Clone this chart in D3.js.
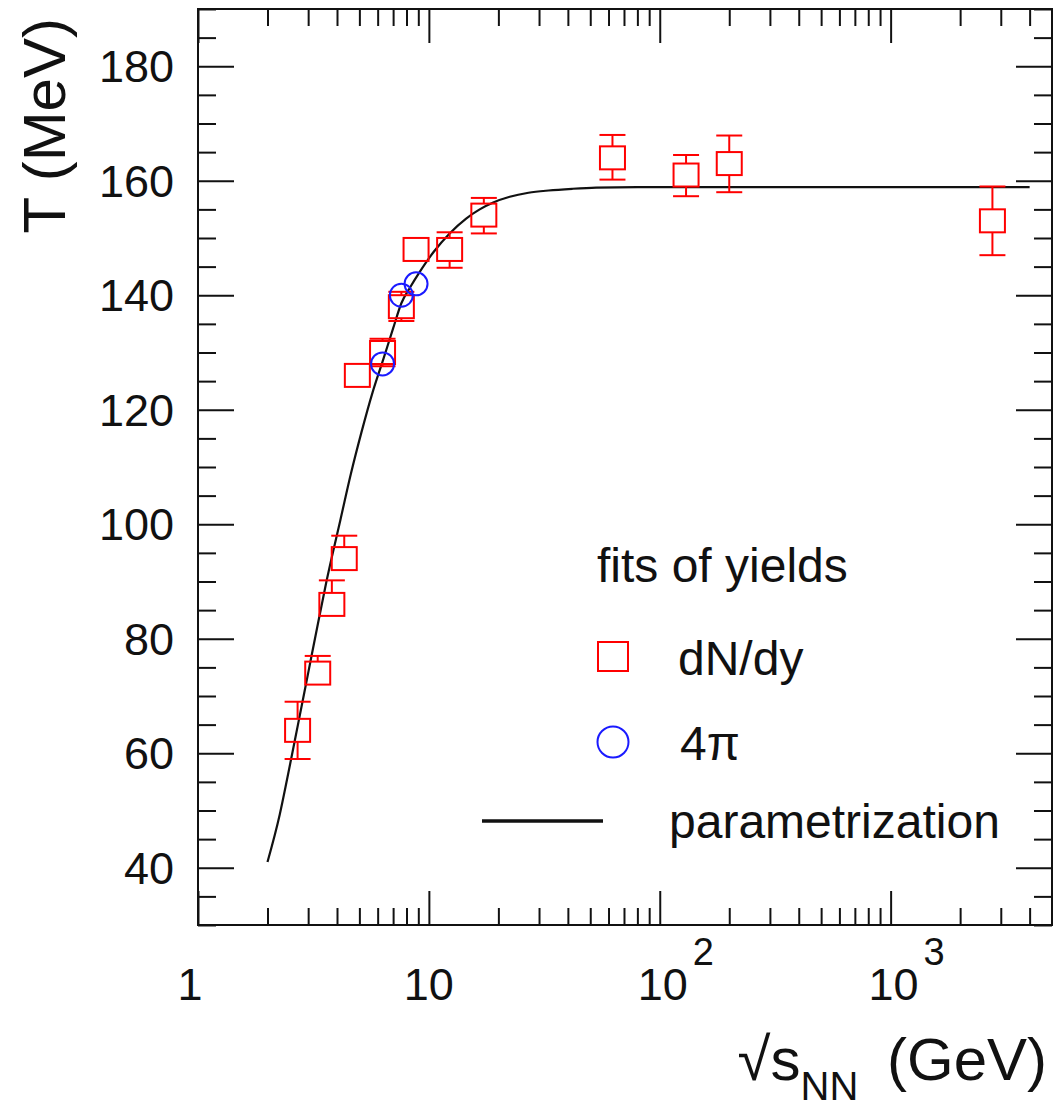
<!DOCTYPE html>
<html>
<head>
<meta charset="utf-8">
<script src="https://cdn.jsdelivr.net/npm/d3@7"></script>
<style>
  body { margin: 0; background: #fff; }
  text { font-family: "Liberation Sans", Arial, Helvetica, sans-serif; fill: #111; }
</style>
</head>
<body>
<div id="chart"></div>
<script>
// fits of yields, dN/dy (red squares)
var sqrtS = [2.7, 3.3, 3.8, 4.3, 4.9, 6.3, 7.6, 8.8, 12.3, 17.3, 62.4, 130, 200, 2760];
var tempDNdy = [64, 74, 86, 94, 126, 130, 138, 148, 148, 154, 164, 161, 163, 153];
var errUp = [5, 3, 4.2, 4, 1, 2.4, 2.6, 1, 3, 3, 4, 3.5, 4.9, 6];
var errDown = [5, 1, 1, 1, 1, 2.4, 2.5, 1, 3.2, 3.2, 3.8, 3.7, 5, 6];

// fits of yields, 4pi (blue circles)
var sqrtS4pi = [6.3, 7.6, 8.8];
var temp4pi = [128, 140, 142];

// parametrization curve
var curveS = [2, 2.26, 2.43, 2.71, 3.0, 3.31, 3.6, 4.14, 4.6, 5.1, 5.7, 6.3, 7.0, 7.6, 8.3, 9.1,
              10.5, 12.3, 14.5, 16.6, 19, 22.4, 27, 33, 42, 53, 80, 150, 400, 4000];
var curveT = [41.0, 49.3, 55.4, 65.0, 74.0, 82.7, 90.0, 100.8, 108.9, 116.0, 123.0, 128.4, 134.2, 138.6, 141.4, 144.0,
              147.6, 150.8, 153.4, 155.0, 156.2, 157.2, 157.9, 158.3, 158.6, 158.8, 158.9, 158.9, 158.9, 158.9];

// ticks
var xMajor = [1, 10, 100, 1000];
var xMinor = [2, 3, 4, 5, 6, 7, 8, 9, 20, 30, 40, 50, 60, 70, 80, 90,
              200, 300, 400, 500, 600, 700, 800, 900, 2000, 3000, 4000];
var xLabels = [["1", ""], ["10", ""], ["10", "2"], ["10", "3"]];
var yMajor = [40, 60, 80, 100, 120, 140, 160, 180];
var yMinor = d3.range(30, 191, 5).filter(function (v) { return v % 20 != 0; });

var W = 1055, H = 1109;
var mLeft = 198, mRight = 1052, mTop = 9, mBottom = 925;

var svg = d3.select("#chart")
    .append("svg")
    .attr("width", W)
    .attr("height", H);

var x = d3.scaleLog()
    .domain([1, 5000])
    .range([mLeft, mRight]);

var y = d3.scaleLinear()
    .domain([30, 190])
    .range([mBottom, mTop]);

// axes on all four sides, ticks pointing inwards
function drawAxis(axisFn, scale, values, size, transform) {
    var g = svg.append("g")
        .attr("transform", transform)
        .call(axisFn(scale).tickValues(values).tickSizeInner(-size).tickSizeOuter(0).tickFormat(""));
    g.select(".domain").remove();
    g.selectAll("line").attr("stroke", "#111").attr("stroke-width", 2);
    return g;
}
drawAxis(d3.axisBottom, x, xMajor, 34, "translate(0," + mBottom + ")");
drawAxis(d3.axisBottom, x, xMinor, 17, "translate(0," + mBottom + ")");
drawAxis(d3.axisTop, x, xMajor, 34, "translate(0," + mTop + ")");
drawAxis(d3.axisTop, x, xMinor, 17, "translate(0," + mTop + ")");
drawAxis(d3.axisLeft, y, yMajor, 36, "translate(" + mLeft + ",0)");
drawAxis(d3.axisLeft, y, yMinor, 18, "translate(" + mLeft + ",0)");
drawAxis(d3.axisRight, y, yMajor, 36, "translate(" + mRight + ",0)");
drawAxis(d3.axisRight, y, yMinor, 18, "translate(" + mRight + ",0)");

// frame
svg.append("rect")
    .attr("x", mLeft).attr("y", mTop)
    .attr("width", mRight - mLeft).attr("height", mBottom - mTop)
    .attr("fill", "none")
    .attr("stroke", "#111")
    .attr("stroke-width", 2);

// y tick labels
svg.append("g")
    .selectAll("text")
    .data(yMajor)
    .enter()
    .append("text")
    .attr("x", mLeft - 24)
    .attr("y", function (d) { return y(d); })
    .attr("dy", "0.36em")
    .attr("text-anchor", "end")
    .style("font-size", "45px")
    .text(function (d) { return d; });

// x tick labels (with exponents)
var xl = svg.append("g")
    .selectAll("text")
    .data(xMajor)
    .enter()
    .append("text")
    .attr("x", function (d) { return x(d); })
    .attr("y", 1000)
    .attr("text-anchor", "middle")
    .style("font-size", "45px");
xl.append("tspan")
    .text(function (d, i) { return xLabels[i][0]; });
xl.append("tspan")
    .attr("dy", -35)
    .attr("dx", 5)
    .style("font-size", "38px")
    .text(function (d, i) { return xLabels[i][1]; });
xl.filter(function (d, i) { return xLabels[i][1] != ""; })
    .attr("x", function (d) { return x(d) + 16; });
xl.filter(function (d) { return d == 1; })
    .attr("x", function (d) { return x(d) - 8; });

// axis titles
svg.append("text")
    .attr("transform", "translate(65,18) rotate(-90)")
    .attr("text-anchor", "end")
    .style("font-size", "60px")
    .text("T (MeV)");

var xt = svg.append("text")
    .attr("x", 1047)
    .attr("y", 1080)
    .attr("text-anchor", "end")
    .style("font-size", "60px");
xt.append("tspan").text("\u221As");
xt.append("tspan").attr("dy", 20).style("font-size", "40px").text("NN");
xt.append("tspan").attr("dy", -20).text("\u2009 (GeV)");

// parametrization line
var line = d3.line()
    .x(function (d, i) { return x(curveS[i]); })
    .y(function (d, i) { return y(curveT[i]); })
    .curve(d3.curveMonotoneX);

svg.append("path")
    .datum(curveS)
    .attr("d", line)
    .attr("fill", "none")
    .attr("stroke", "#111")
    .attr("stroke-width", 2.2);

// dN/dy points: error bars drawn outside the marker only, like ROOT
var sqW = 25, sqH = 23, capW = 26;
var red = "#ff0000", blue = "#1a1aff";
var pts = sqrtS.map(function (s, i) {
    return { s: s, t: tempDNdy[i], up: errUp[i], dn: errDown[i] };
});

var eb = svg.append("g")
    .attr("stroke", red)
    .attr("stroke-width", 2)
    .attr("fill", "none");

pts.forEach(function (d) {
    var cx = x(d.s), cy = y(d.t);
    var yTop = y(d.t + d.up), yBot = y(d.t - d.dn);
    if (cy - yTop > sqH / 2) {
        eb.append("line").attr("x1", cx).attr("x2", cx).attr("y1", cy - sqH / 2).attr("y2", yTop);
        eb.append("line").attr("x1", cx - capW / 2).attr("x2", cx + capW / 2).attr("y1", yTop).attr("y2", yTop);
    }
    if (yBot - cy > sqH / 2) {
        eb.append("line").attr("x1", cx).attr("x2", cx).attr("y1", cy + sqH / 2).attr("y2", yBot);
        eb.append("line").attr("x1", cx - capW / 2).attr("x2", cx + capW / 2).attr("y1", yBot).attr("y2", yBot);
    }
});

svg.append("g")
    .selectAll("rect")
    .data(pts)
    .enter()
    .append("rect")
    .attr("x", function (d) { return x(d.s) - sqW / 2; })
    .attr("y", function (d) { return y(d.t) - sqH / 2; })
    .attr("width", sqW)
    .attr("height", sqH)
    .attr("fill", "none")
    .attr("stroke", red)
    .attr("stroke-width", 2);

// 4pi points
svg.append("g")
    .selectAll("circle")
    .data(sqrtS4pi)
    .enter()
    .append("circle")
    .attr("cx", function (d) { return x(d); })
    .attr("cy", function (d, i) { return y(temp4pi[i]); })
    .attr("r", 11.5)
    .attr("fill", "none")
    .attr("stroke", blue)
    .attr("stroke-width", 2);

// legend
var lg = svg.append("g");
lg.append("text").attr("x", 597).attr("y", 582).style("font-size", "48px").text("fits of yields");
lg.append("rect")
    .attr("x", 598).attr("y", 642).attr("width", 30).attr("height", 29)
    .attr("fill", "none").attr("stroke", red).attr("stroke-width", 2);
lg.append("text").attr("x", 678).attr("y", 675).style("font-size", "48px").text("dN/dy");
lg.append("circle")
    .attr("cx", 613).attr("cy", 742).attr("r", 15.5)
    .attr("fill", "none").attr("stroke", blue).attr("stroke-width", 2);
lg.append("text").attr("x", 680).attr("y", 760).style("font-size", "48px").text("4\u03C0");
lg.append("line")
    .attr("x1", 482).attr("x2", 603).attr("y1", 821).attr("y2", 821)
    .attr("stroke", "#111").attr("stroke-width", 3.5);
lg.append("text").attr("x", 669).attr("y", 838).style("font-size", "48px").text("parametrization");
</script>
</body>
</html>
